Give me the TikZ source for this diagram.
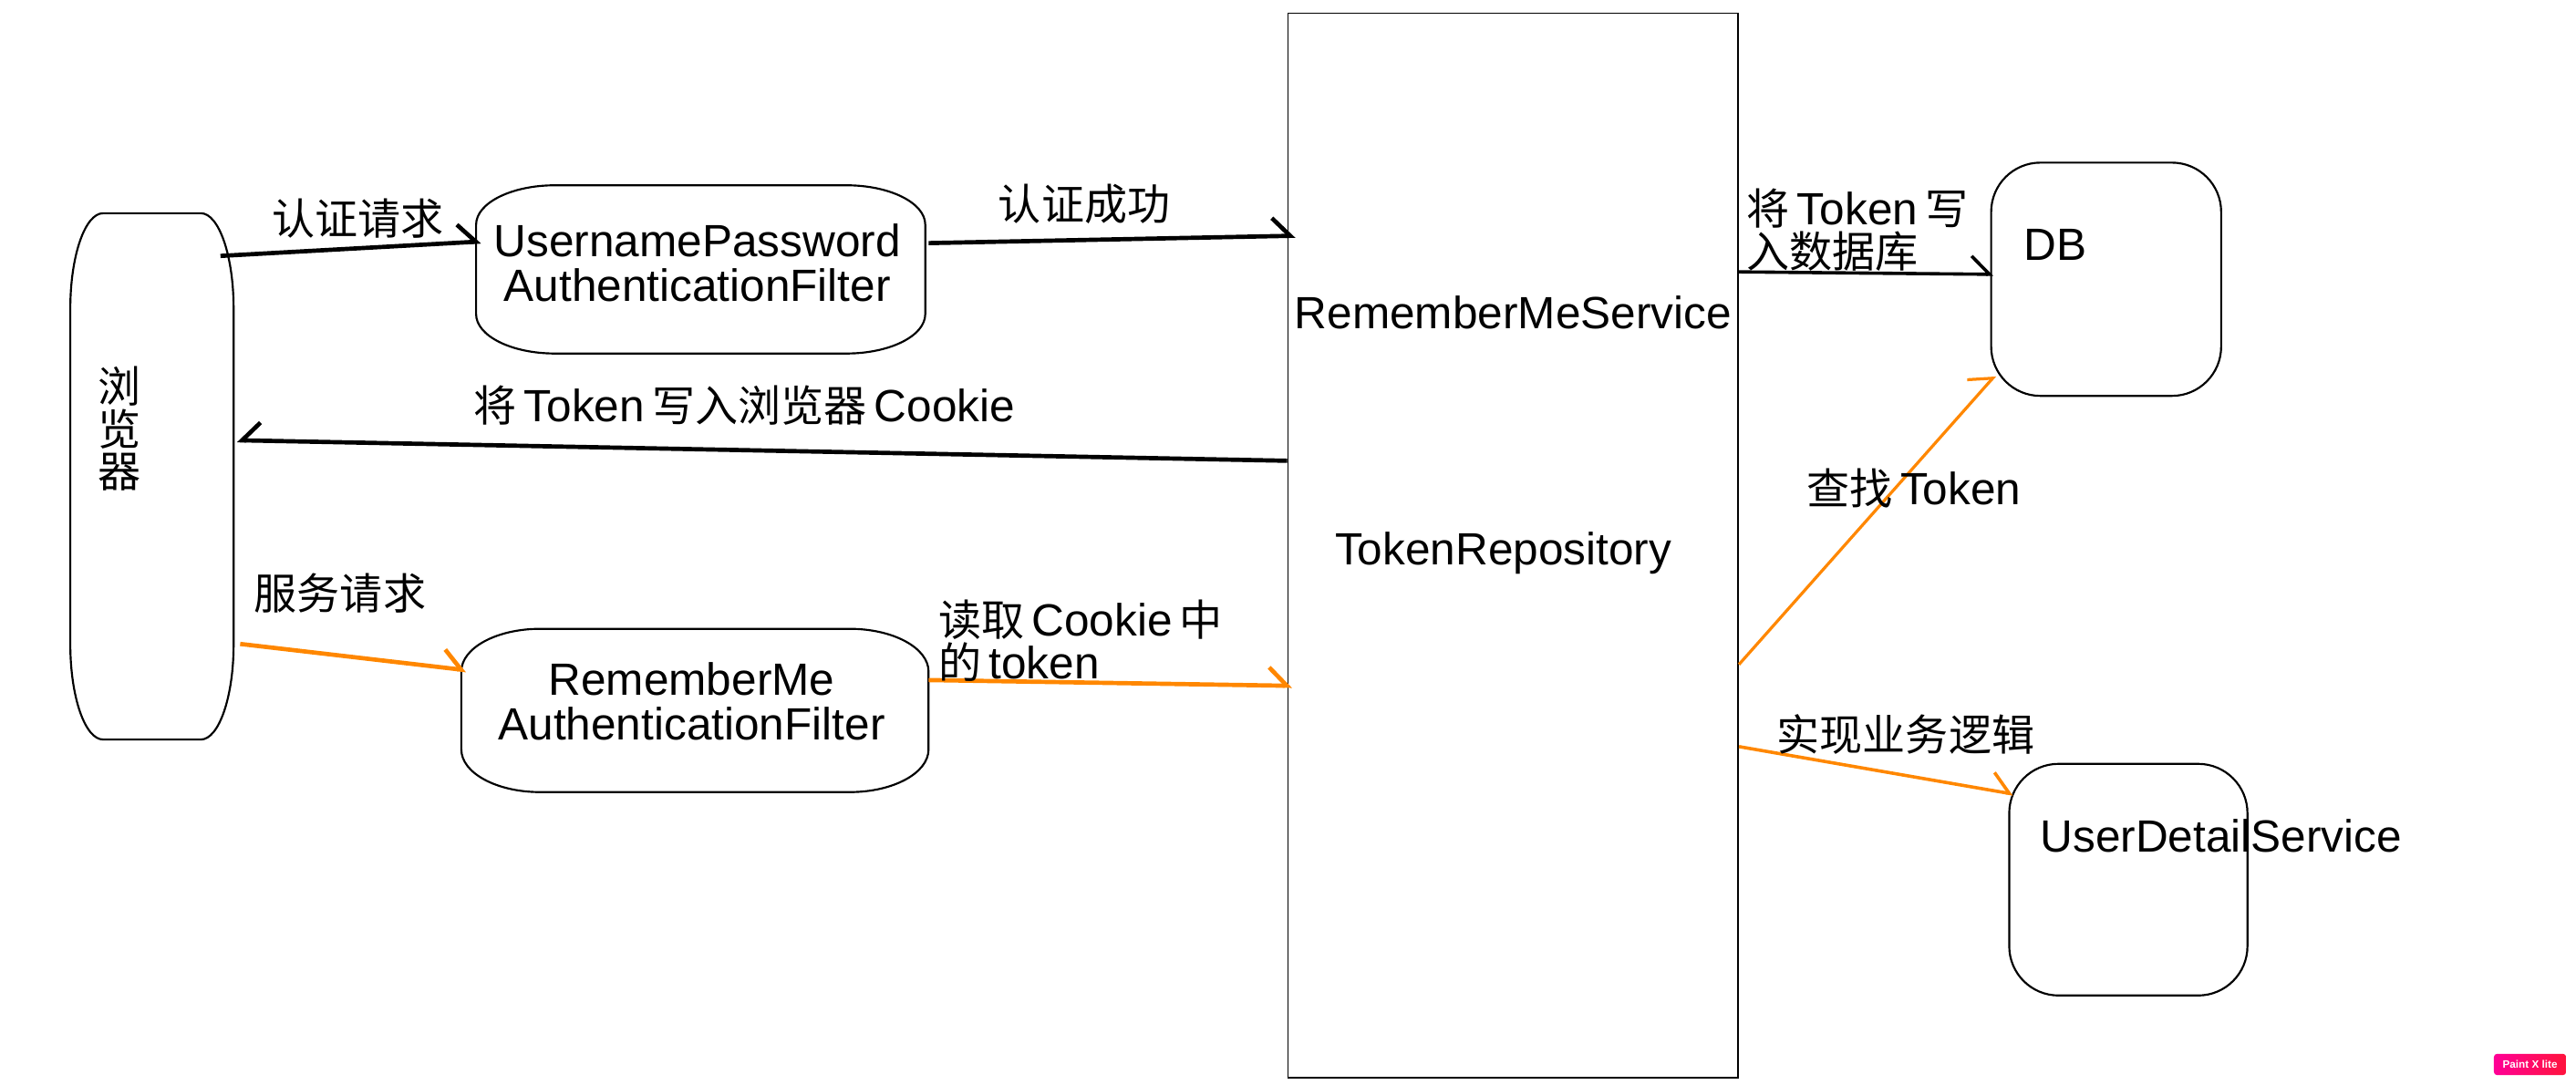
\documentclass[tikz,border=0pt]{standalone}
\usepackage{xcolor}
\usepackage{fontspec}
\usepackage{tikz}
\usetikzlibrary{calc,arrows.meta}
\setmainfont{Liberation Sans}
\newfontfamily\cjk[Scale=0.95]{Noto Sans CJK SC}
\definecolor{flow}{RGB}{255,135,0}
\definecolor{badgeA}{RGB}{255,0,150}
\definecolor{badgeB}{RGB}{255,20,60}
\newcommand\ovalframe[3]{%
	\draw[frame] ($(#1.north west)+(#2,0)$) -- ($(#1.north east)+(-#2,0)$)
		arc[start angle=90,end angle=0,x radius=#2pt,y radius=#3pt]
		-- ($(#1.south east)+(0,#3)$)
		arc[start angle=0,end angle=-90,x radius=#2pt,y radius=#3pt]
		-- ($(#1.south west)+(#2,0)$)
		arc[start angle=270,end angle=180,x radius=#2pt,y radius=#3pt]
		-- ($(#1.north west)+(0,-#3)$)
		arc[start angle=180,end angle=90,x radius=#2pt,y radius=#3pt]
		-- cycle;}

\begin{document}
\begin{tikzpicture}[x=1pt, y=1pt,
	font=\fontsize{27.5}{27}\selectfont,
	zh/.style={font=\fontsize{27.5}{26}\selectfont\cjk},
	frame/.style={line width=1.2pt},
	holder/.style={inner sep=0pt, align=center},
	roundbox/.style={draw, line width=1.2pt, rounded corners=30pt, inner sep=0pt},
	blackflow/.style={line width=2.6pt, -{Straight Barb[harpoon, length=11pt, width=22pt]}},
	backflow/.style={line width=2.6pt, -{Straight Barb[harpoon, swap, length=11pt, width=22pt]}},
	orangeflow/.style={blackflow, draw=flow},
	note/.style={inner sep=0pt, align=left, font=\fontsize{27.5}{26}\selectfont}]
\useasboundingbox (0,0) rectangle (1568,-660);

\node[holder, minimum width=99pt, minimum height=320pt] (browser) at (92.5,-290) {};
\ovalframe{browser}{20}{58}
\node[holder, zh] (browsername) at (72.5,-261) {浏\\览\\器};

\node[holder, minimum width=273pt, minimum height=102pt] (upfilter) at (426.5,-164) {};
\ovalframe{upfilter}{48}{24}
\node[holder] (upname) at (424.5,-160) {UsernamePassword\\AuthenticationFilter};
\node[holder, minimum width=284pt, minimum height=99pt] (rmfilter) at (423,-432.5) {};
\ovalframe{rmfilter}{48}{26}
\node[holder] (rmname) at (421,-427) {RememberMe\hspace{14pt}\\AuthenticationFilter};

\node[draw, line width=1pt, inner sep=0pt, minimum width=274pt, minimum height=648pt] (service) at (921,-332) {};
\node (servicename) at (921,-190) {RememberMeService};
\node (repo) at (915,-337) {TokenRepository};

\node[roundbox, minimum width=140pt, minimum height=142pt] (db) at (1282,-170) {};
\node (dbname) at (1251,-149) {DB};
\node[roundbox, minimum width=145pt, minimum height=141pt] (uds) at (1295.5,-535.5) {};
\node (udsname) at (1352,-509) {UserDetailService};

\draw[blackflow] ($(browser.north east)+(-8,-26)$) -- ($(upfilter.west)+(3,17)$);
\draw[blackflow] ($(upfilter.east)+(2,16)$) -- ($(service.north west)+(5,-136)$);
\draw[backflow] ($(service.north west)+(0,-273)$) -- ($(browser.east)+(2,22)$);
\draw[orangeflow] ($(browser.east)+(4,-102)$) -- ($(rmfilter.west)+(3,24.5)$);
\draw[orangeflow] ($(rmfilter.east)+(0,18.5)$) -- ($(service.north west)+(3,-410)$);
\draw[blackflow, line width=2pt] ($(service.north east)+(0,-158)$) -- ($(db.west)+(2,3)$);
\draw[orangeflow, line width=1.8pt] ($(service.north east)+(0,-397)$) -- ($(db.south west)+(3,13)$);
\draw[orangeflow, line width=2pt] ($(service.north east)+(0,-447)$) -- ($(uds.north west)+(3,-19)$);

\node[zh] (authreq) at (218,-133) {认证请求};
\node[zh] (authok) at (660,-124) {认证成功};
\node (cookieset) at (453,-247) {{\cjk 将}\,Token\,{\cjk 写入浏览器}\,Cookie};
\node[zh] (servreq) at (207,-361) {服务请求};
\node[note, anchor=west] (cookieget) at (571,-390) {{\cjk 读取}\,Cookie\,{\cjk 中}\\{\cjk 的}\,token};
\node[note, anchor=west] (dbwrite) at (1063,-140) {{\cjk 将}\,Token\,{\cjk 写}\\{\cjk 入数据库}};
\node (lookup) at (1165,-297) {{\cjk 查找}\,Token};
\node[zh] (business) at (1160,-447) {实现业务逻辑};

\node[left color=badgeA, right color=badgeB, rounded corners=2pt, inner sep=0pt, minimum width=44pt, minimum height=13pt, text=white, font=\fontsize{6.5}{7}\selectfont\bfseries] (badge) at (1540,-648) {Paint X lite};
\end{tikzpicture}
\end{document}
